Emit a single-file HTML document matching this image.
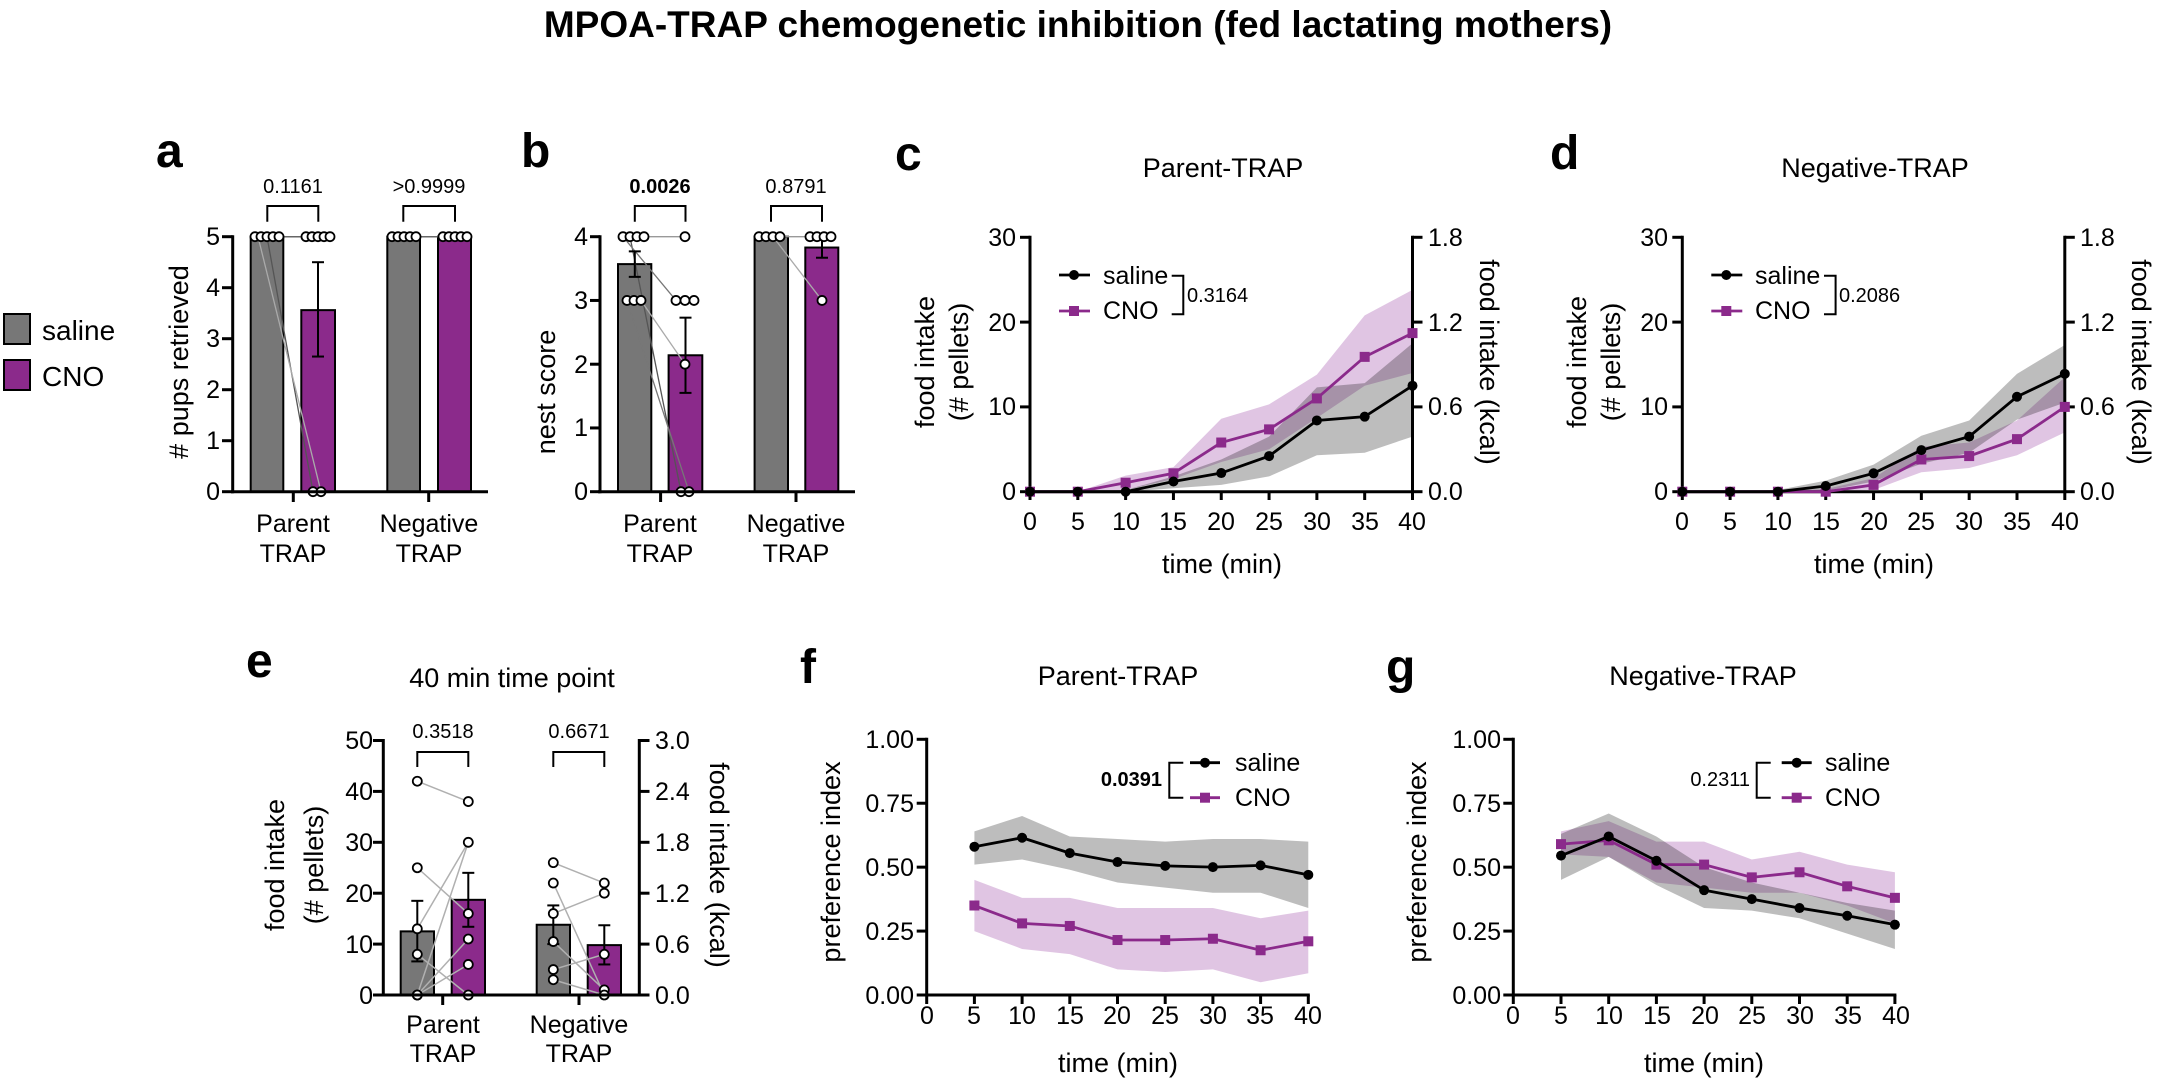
<!DOCTYPE html>
<html><head><meta charset="utf-8">
<style>
html,body{margin:0;padding:0;background:#fff;}
svg{display:block;font-family:"Liberation Sans",Arial,sans-serif;}
.t{font-size:25px;}
.p{font-size:20px;}
.L{font-size:48px;font-weight:bold;}
.h{font-size:27px;}
</style></head><body>
<svg id="s" width="2157" height="1084" viewBox="0 0 2157 1084" xmlns="http://www.w3.org/2000/svg">
<rect width="2157" height="1084" fill="#fff"/>
<g id="g"></g>
<text x="1078" y="37" text-anchor="middle" font-size="37" font-weight="bold">MPOA-TRAP chemogenetic inhibition (fed lactating mothers)</text>

<rect x="4" y="314" width="26" height="30" fill="#777" stroke="#000" stroke-width="2"/>
<text x="42" y="340" font-size="28">saline</text>
<rect x="4" y="360" width="26" height="30" fill="#8b2a8b" stroke="#000" stroke-width="2"/>
<text x="42" y="386" font-size="28">CNO</text>

<text class="L" x="156" y="167">a</text>
<text class="L" x="521" y="167">b</text>
<text class="L" x="895" y="170">c</text>
<text class="L" x="1550" y="169">d</text>
<text class="L" x="246" y="677">e</text>
<text class="L" x="800" y="683">f</text>
<text class="L" x="1386" y="683">g</text>

<g class="t" text-anchor="end">
<text x="220" y="245">5</text><text x="220" y="296">4</text><text x="220" y="347">3</text><text x="220" y="398">2</text><text x="220" y="449">1</text><text x="220" y="500">0</text>
<text x="588" y="245">4</text><text x="588" y="309">3</text><text x="588" y="373">2</text><text x="588" y="436">1</text><text x="588" y="500">0</text>
</g>
<text class="h" transform="translate(188,362) rotate(-90)" text-anchor="middle">#&#160;pups retrieved</text>
<text class="h" transform="translate(555,392) rotate(-90)" text-anchor="middle">nest score</text>
<g class="t" text-anchor="middle">
<text x="293" y="532">Parent</text><text x="293" y="562">TRAP</text>
<text x="429" y="532">Negative</text><text x="429" y="562">TRAP</text>
<text x="660" y="532">Parent</text><text x="660" y="562">TRAP</text>
<text x="796" y="532">Negative</text><text x="796" y="562">TRAP</text>
</g>
<g class="p" text-anchor="middle">
<text x="293" y="193">0.1161</text><text x="429" y="193">&gt;0.9999</text>
<text x="660" y="193" font-weight="bold">0.0026</text><text x="796" y="193">0.8791</text>
</g>

<text class="h" x="1223" y="177" text-anchor="middle">Parent-TRAP</text>
<text class="h" x="1875" y="177" text-anchor="middle">Negative-TRAP</text>
<g class="t" text-anchor="end">
<text x="1016" y="500">0</text><text x="1016" y="415">10</text><text x="1016" y="331">20</text><text x="1016" y="246">30</text>
<text x="1668" y="500">0</text><text x="1668" y="415">10</text><text x="1668" y="331">20</text><text x="1668" y="246">30</text>
</g>
<g class="t">
<text x="1428" y="500">0.0</text><text x="1428" y="415">0.6</text><text x="1428" y="331">1.2</text><text x="1428" y="246">1.8</text>
<text x="2080" y="500">0.0</text><text x="2080" y="415">0.6</text><text x="2080" y="331">1.2</text><text x="2080" y="246">1.8</text>
</g>
<g class="t" text-anchor="middle">
<text x="1030" y="530">0</text><text x="1078" y="530">5</text><text x="1126" y="530">10</text><text x="1173" y="530">15</text><text x="1221" y="530">20</text><text x="1269" y="530">25</text><text x="1317" y="530">30</text><text x="1365" y="530">35</text><text x="1412" y="530">40</text>
<text x="1682" y="530">0</text><text x="1730" y="530">5</text><text x="1778" y="530">10</text><text x="1826" y="530">15</text><text x="1874" y="530">20</text><text x="1921" y="530">25</text><text x="1969" y="530">30</text><text x="2017" y="530">35</text><text x="2065" y="530">40</text>
</g>
<text class="h" x="1222" y="573" text-anchor="middle">time (min)</text>
<text class="h" x="1874" y="573" text-anchor="middle">time (min)</text>
<text class="h" transform="translate(934,362) rotate(-90)" text-anchor="middle">food intake</text>
<text class="h" transform="translate(968,362) rotate(-90)" text-anchor="middle">(#&#160;pellets)</text>
<text class="h" transform="translate(1586,362) rotate(-90)" text-anchor="middle">food intake</text>
<text class="h" transform="translate(1620,362) rotate(-90)" text-anchor="middle">(#&#160;pellets)</text>
<text class="h" transform="translate(1480,362) rotate(90)" text-anchor="middle">food intake (kcal)</text>
<text class="h" transform="translate(2132,362) rotate(90)" text-anchor="middle">food intake (kcal)</text>
<text class="t" x="1103" y="284">saline</text><text class="t" x="1103" y="319">CNO</text>
<text class="p" x="1187" y="302">0.3164</text>
<text class="t" x="1755" y="284">saline</text><text class="t" x="1755" y="319">CNO</text>
<text class="p" x="1839" y="302">0.2086</text>

<text class="h" x="512" y="687" text-anchor="middle">40 min time point</text>
<g class="t" text-anchor="end">
<text x="373" y="1004">0</text><text x="373" y="953">10</text><text x="373" y="902">20</text><text x="373" y="851">30</text><text x="373" y="800">40</text><text x="373" y="749">50</text>
</g>
<g class="t">
<text x="655" y="1004">0.0</text><text x="655" y="953">0.6</text><text x="655" y="902">1.2</text><text x="655" y="851">1.8</text><text x="655" y="800">2.4</text><text x="655" y="749">3.0</text>
</g>
<text class="h" transform="translate(284,865) rotate(-90)" text-anchor="middle">food intake</text>
<text class="h" transform="translate(323,865) rotate(-90)" text-anchor="middle">(#&#160;pellets)</text>
<text class="h" transform="translate(710,865) rotate(90)" text-anchor="middle">food intake (kcal)</text>
<g class="t" text-anchor="middle">
<text x="443" y="1033">Parent</text><text x="443" y="1062">TRAP</text>
<text x="579" y="1033">Negative</text><text x="579" y="1062">TRAP</text>
</g>
<g class="p" text-anchor="middle"><text x="443" y="738">0.3518</text><text x="579" y="738">0.6671</text></g>

<text class="h" x="1118" y="685" text-anchor="middle">Parent-TRAP</text>
<text class="h" x="1703" y="685" text-anchor="middle">Negative-TRAP</text>
<g class="t" text-anchor="end">
<text x="914" y="1004">0.00</text><text x="914" y="940">0.25</text><text x="914" y="876">0.50</text><text x="914" y="812">0.75</text><text x="914" y="748">1.00</text>
<text x="1501" y="1004">0.00</text><text x="1501" y="940">0.25</text><text x="1501" y="876">0.50</text><text x="1501" y="812">0.75</text><text x="1501" y="748">1.00</text>
</g>
<g class="t" text-anchor="middle">
<text x="927" y="1024">0</text><text x="974" y="1024">5</text><text x="1022" y="1024">10</text><text x="1070" y="1024">15</text><text x="1117" y="1024">20</text><text x="1165" y="1024">25</text><text x="1213" y="1024">30</text><text x="1260" y="1024">35</text><text x="1308" y="1024">40</text>
<text x="1513" y="1024">0</text><text x="1561" y="1024">5</text><text x="1609" y="1024">10</text><text x="1657" y="1024">15</text><text x="1705" y="1024">20</text><text x="1752" y="1024">25</text><text x="1800" y="1024">30</text><text x="1848" y="1024">35</text><text x="1896" y="1024">40</text>
</g>
<text class="h" x="1118" y="1072" text-anchor="middle">time (min)</text>
<text class="h" x="1704" y="1072" text-anchor="middle">time (min)</text>
<text class="h" transform="translate(840,862) rotate(-90)" text-anchor="middle">preference index</text>
<text class="h" transform="translate(1426,862) rotate(-90)" text-anchor="middle">preference index</text>
<text class="t" x="1235" y="771">saline</text><text class="t" x="1235" y="806">CNO</text>
<text class="p" x="1162" y="786" text-anchor="end" font-weight="bold">0.0391</text>
<text class="t" x="1825" y="771">saline</text><text class="t" x="1825" y="806">CNO</text>
<text class="p" x="1750" y="786" text-anchor="end">0.2311</text>
</svg>
<script>
const G=document.getElementById('g');
const NS='http://www.w3.org/2000/svg';
const PUR='#8b2a8b', GR='#777';
function el(t,a){const e=document.createElementNS(NS,t);for(const k in a)e.setAttribute(k,a[k]);G.appendChild(e);return e;}
function L(x1,y1,x2,y2,w,c){el('line',{x1,y1,x2,y2,stroke:c||'#000','stroke-width':w||3});}
function circ(x,y,r,fill){el('circle',{cx:x,cy:y,r:r||4.5,fill:fill||'#fff',stroke:'#000','stroke-width':1.8});}
function dot(x,y){el('circle',{cx:x,cy:y,r:5,fill:'#000'});}
function sq(x,y){el('rect',{x:x-5,y:y-5,width:10,height:10,fill:PUR});}
function bar(x1,x2,yt,y0,f){el('rect',{x:x1,y:yt,width:x2-x1,height:y0-yt,fill:f,stroke:'#000','stroke-width':2});}
function err(x,y1,y2){L(x,y1,x,y2,2);L(x-6,y1,x+6,y1,2);L(x-6,y2,x+6,y2,2);}
function path(d,a){a.d=d;el('path',Object.assign({fill:'none'},a));}
function brk(x1,x2,yt,yb){path(`M${x1} ${yb}V${yt}H${x2}V${yb}`,{stroke:'#000','stroke-width':2});}

(function(){
 const Y=v=>491.7-v*51;
 bar(250.7,283.3,Y(5),Y(0),GR);bar(301.3,335,Y(3.56),Y(0),PUR);
 bar(387.3,420,Y(5),Y(0),GR);bar(438,471,Y(5),Y(0),PUR);
 L(282,Y(5),306,Y(5),1.5,'#666');L(420,Y(5),442,Y(5),1.5,'#666');
 L(267,Y(5),313,Y(0),1.3,'#555');L(258,Y(5),321,Y(0),1.3,'#aaa');
 err(318,Y(4.5),Y(2.65));
 [255,261,267,273,279].forEach(x=>circ(x,Y(5)));
 [306,312,318,324,330].forEach(x=>circ(x,Y(5)));
 circ(313,Y(0));circ(321,Y(0));
 [392,398,404,410,416].forEach(x=>circ(x,Y(5)));
 [443,449,455,461,467].forEach(x=>circ(x,Y(5)));
 L(232.7,Y(5)-1.5,232.7,Y(0)+1.5);L(231,Y(0),488,Y(0));
 for(let v=0;v<=5;v++)L(222,Y(v),232.7,Y(v));
 L(293.3,Y(0),293.3,502);L(428.7,Y(0),428.7,502);
 brk(267.3,318.3,206,221.7);brk(403.3,455,206,221.7);
})();
(function(){
 const Y=v=>491.7-v*63.75;
 bar(618,651.3,Y(3.57),Y(0),GR);bar(668.6,702.3,Y(2.14),Y(0),PUR);
 bar(754.6,788,Y(4),Y(0),GR);bar(805.3,838.3,Y(3.83),Y(0),PUR);
 L(644,Y(4),685,Y(4),1.3,'#999');L(630,Y(4),681,Y(0),1.3,'#555');
 L(623,Y(4),676,Y(3),1.3,'#777');L(641,Y(3),685,Y(2),1.3,'#aaa');L(627,Y(3),689,Y(0),1.3,'#777');
 L(780,Y(4),810,Y(4),1.3,'#999');L(773,Y(4),822,Y(3),1.3,'#aaa');
 err(634.8,Y(3.77),Y(3.37));err(685.5,Y(2.73),Y(1.55));err(822,Y(4),Y(3.67));
 [623,630,637,644].forEach(x=>circ(x,Y(4)));[627,634,641].forEach(x=>circ(x,Y(3)));
 circ(685,Y(4));[676,685,694].forEach(x=>circ(x,Y(3)));circ(685,Y(2));circ(681,Y(0));circ(689,Y(0));
 [759,766,773,780].forEach(x=>circ(x,Y(4)));[810,817,824,831].forEach(x=>circ(x,Y(4)));circ(822,Y(3));
 L(600,Y(4)-1.5,600,Y(0)+1.5);L(598,Y(0),855,Y(0));
 for(let v=0;v<=4;v++)L(590,Y(v),600,Y(v));
 L(660.6,Y(0),660.6,502);L(796,Y(0),796,502);
 brk(634.8,685.5,206,221.7);brk(771,822,206,221.7);
})();
function band(X,Y,ts,lo,hi,fill){
 let d='M'+ts.map((t,i)=>X(t)+' '+Y(hi[i])).join('L');
 for(let i=ts.length-1;i>=0;i--)d+='L'+X(ts[i])+' '+Y(lo[i]);
 el('path',{d:d+'Z',fill});
}
function series(X,Y,ts,v,c,mk){
 el('polyline',{points:ts.map((t,i)=>X(t)+','+Y(v[i])).join(' '),fill:'none',stroke:c,'stroke-width':2.8});
 ts.forEach((t,i)=>mk(X(t),Y(v[i])));
}
function foodPanel(x0,sal,salLo,salHi,cno,cnoLo,cnoHi){
 const X=t=>x0+t/40*382.5, Y=v=>491.7-v*8.48, T=[0,5,10,15,20,25,30,35,40];
 band(X,Y,T,cnoLo,cnoHi,'rgba(140,40,150,0.27)');
 band(X,Y,T,salLo,salHi,'rgba(0,0,0,0.26)');
 L(x0,237.3-1.5,x0,491.7);L(x0-2,491.7,X(40)+1.5,491.7);L(X(40),237.3-1.5,X(40),491.7);
 [0,10,20,30].forEach(v=>{L(x0-10,Y(v),x0,Y(v));L(X(40),Y(v),X(40)+10,Y(v));});
 T.forEach(t=>L(X(t),491.7,X(t),500));
 series(X,Y,T,cno,PUR,sq);series(X,Y,T,sal,'#000',dot);
 const lx=x0+29;L(lx,275,lx+31,275,2.8);dot(lx+15,275);L(lx,311,lx+31,311,2.8,PUR);sq(lx+15,311);
 path(`M${x0+141.7} 275.7H${x0+153.3}V314.3H${x0+141.7}`,{stroke:'#000','stroke-width':2});
}
foodPanel(1030,[0,0,0,1.2,2.2,4.2,8.4,8.85,12.5],[0,0,0,0.4,0.8,1.8,4.3,4.6,6.5],[0,0,0.2,1.8,3.8,6.5,12.3,12.8,17.5],
 [0,0,1.06,2.17,5.8,7.35,11,15.9,18.7],[0,0,0.2,1.5,3.5,5,8.7,12.5,14],[0,0,1.9,2.9,8.6,10.3,13.8,20.8,23.8]);
foodPanel(1682.3,[0,0,0,0.67,2.17,4.9,6.5,11.2,13.9],[0,0,0,0.1,1.2,3.3,4.6,8.5,10.5],[0,0,0.2,1.3,3.2,6.6,8.4,13.9,17.3],
 [0,0,0,0,0.8,3.8,4.2,6.2,10],[0,0,0,0,0.2,2.3,2.8,4.3,7],[0,0,0.1,0.3,1.6,5.3,5.8,8.4,13.5]);

function prefPanel(x0,sal,salLo,salHi,cno,cnoLo,cnoHi,pb,px){
 const X=t=>x0+t/40*381.6, Y=v=>995-v*255.7, T=[5,10,15,20,25,30,35,40];
 band(X,Y,T,cnoLo,cnoHi,'rgba(140,40,150,0.27)');
 band(X,Y,T,salLo,salHi,'rgba(0,0,0,0.26)');
 L(x0,739.3-1.5,x0,995);L(x0-2,995,X(40)+1.5,995);
 [0,0.25,0.5,0.75,1].forEach(v=>L(x0-10,Y(v),x0,Y(v)));
 [0,5,10,15,20,25,30,35,40].forEach(t=>L(X(t),995,X(t),1004));
 series(X,Y,T,cno,PUR,sq);series(X,Y,T,sal,'#000',dot);
 L(px,762.7,px+30,762.7,2.8);dot(px+15,762.7);L(px,797.7,px+30,797.7,2.8,PUR);sq(px+15,797.7);
 path(`M${pb+14} 762.7H${pb}V797.7H${pb+14}`,{stroke:'#000','stroke-width':2});
}
prefPanel(926.7,[0.58,0.615,0.555,0.52,0.505,0.50,0.507,0.47],[0.51,0.53,0.49,0.44,0.42,0.40,0.40,0.34],[0.64,0.70,0.62,0.61,0.60,0.61,0.61,0.60],
 [0.35,0.28,0.27,0.215,0.215,0.22,0.175,0.21],[0.25,0.18,0.16,0.10,0.09,0.10,0.05,0.085],[0.45,0.38,0.38,0.34,0.34,0.34,0.30,0.33],1169.3,1190);
prefPanel(1513.3,[0.545,0.62,0.525,0.41,0.375,0.34,0.31,0.275],[0.45,0.54,0.43,0.34,0.33,0.30,0.24,0.18],[0.63,0.71,0.62,0.50,0.44,0.40,0.36,0.33],
 [0.59,0.605,0.51,0.51,0.46,0.48,0.425,0.38],[0.55,0.54,0.44,0.42,0.40,0.40,0.35,0.28],[0.64,0.68,0.60,0.60,0.53,0.56,0.51,0.48],1756.7,1781.7);

(function(){
 const Y=v=>995-v*5.09;
 bar(400.7,434,Y(12.5),Y(0),GR);bar(451.7,485,Y(18.7),Y(0),PUR);
 bar(536.7,570,Y(13.8),Y(0),GR);bar(587.7,621,Y(9.8),Y(0),PUR);
 const a=417.3,b=468.3,c=553.3,d=604.3;
 [[42,38],[25,16],[13,30],[8,0],[0,11],[0,6],[0,30]].forEach(p=>L(a,Y(p[0]),b,Y(p[1]),1.5,'#b0b0b0'));
 [[26,22],[22,0],[16,20],[10.5,1],[5,8],[3,0]].forEach(p=>L(c,Y(p[0]),d,Y(p[1]),1.5,'#b0b0b0'));
 err(a,Y(18.5),Y(6.6));err(b,Y(24),Y(13.4));err(c,Y(17.6),Y(10));err(d,Y(13.7),Y(6));
 [42,25,13,8,0,0].forEach(v=>circ(a,Y(v)));[38,30,16,11,6,0].forEach(v=>circ(b,Y(v)));
 [26,22,16,10.5,5,3].forEach(v=>circ(c,Y(v)));[22,20,8,1,0].forEach(v=>circ(d,Y(v)));
 L(383.3,Y(50)-1.5,383.3,Y(0));L(381,Y(0),641,Y(0));L(639.3,Y(50)-1.5,639.3,Y(0));
 for(let v=0;v<=50;v+=10){L(373,Y(v),383.3,Y(v));L(639.3,Y(v),649.5,Y(v));}
 L(442.7,Y(0),442.7,1005);L(579,Y(0),579,1005);
 brk(417.3,468.3,752,767);brk(553.3,604.3,752,767);
})();
</script>
</body></html>
